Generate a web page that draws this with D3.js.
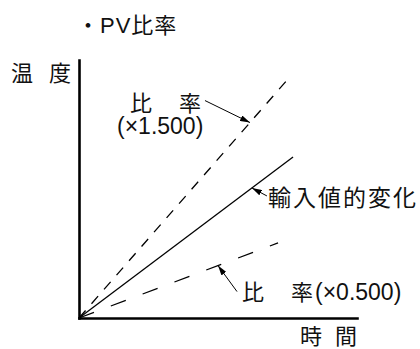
<!DOCTYPE html>
<html>
<head>
<meta charset="utf-8">
<script src="https://cdn.jsdelivr.net/npm/d3@7"></script>
<style>
  body { margin: 0; background: #fff; }
  text { font-family: "Liberation Sans", Arial, "Noto Sans CJK JP", sans-serif; fill: #111; }
</style>
</head>
<body>
<div id="root"></div>
<script>
const width = 420, height = 349;

// data, time and temperature in arbitrary units (axes have no ticks)
const timeDomain = [0, 10];
const tempDomain = [0, 10];
const seriesNames = ["x1.500", "input", "x0.500"];
const seriesEndTime = [7.55, 7.70, 7.16];
const seriesEndTemp = [9.30, 6.24, 2.91];
const seriesDash = ["10,9", null, "16,18"];

const svg = d3.select("#root").append("svg")
    .attr("width", width)
    .attr("height", height);

const x = d3.scaleLinear().domain(timeDomain).range([79, 357]);
const y = d3.scaleLinear().domain(tempDomain).range([318, 60]);

// axes, no ticks
svg.append("g")
    .attr("transform", "translate(0," + y(0) + ")")
    .call(d3.axisBottom(x).tickValues([]).tickSizeOuter(0));
svg.append("g")
    .attr("transform", "translate(" + x(0) + ",0)")
    .call(d3.axisLeft(y).tickValues([]).tickSizeOuter(0));
svg.selectAll(".domain")
    .attr("stroke", "#000")
    .attr("stroke-width", 2.6)
    .attr("stroke-linecap", "square");

// the three lines from origin
const line = d3.line().x(d => x(d[0])).y(d => y(d[1]));
svg.selectAll(".ratio")
  .data(seriesNames)
  .enter().append("path")
    .attr("class", "ratio")
    .attr("d", (d, i) => line([[0, 0], [seriesEndTime[i], seriesEndTemp[i]]]))
    .attr("fill", "none")
    .attr("stroke", "#000")
    .attr("stroke-width", 1.3)
    .attr("stroke-dasharray", (d, i) => seriesDash[i]);

// arrow marker
svg.append("defs").append("marker")
    .attr("id", "arrow")
    .attr("viewBox", "0 0 10 6")
    .attr("refX", 10)
    .attr("refY", 3)
    .attr("markerWidth", 10)
    .attr("markerHeight", 6)
    .attr("markerUnits", "userSpaceOnUse")
    .attr("orient", "auto")
  .append("path")
    .attr("d", "M0,0L10,3L0,6Z")
    .attr("fill", "#000");

// annotation arrows: which line, time of the tip, tail offset in px
const notes = [
  {s: 0, t: 6.15, dx: -45, dy: -22},
  {s: 1, t: 6.22, dx: 15, dy: 8},
  {s: 2, t: 5.00, dx: 19, dy: 26}
];
svg.selectAll(".note")
  .data(notes)
  .enter().append("line")
    .attr("class", "note")
    .attr("x1", d => x(d.t) + d.dx)
    .attr("y1", d => y(seriesEndTemp[d.s] * d.t / seriesEndTime[d.s]) + d.dy)
    .attr("x2", d => x(d.t))
    .attr("y2", d => y(seriesEndTemp[d.s] * d.t / seriesEndTime[d.s]))
    .attr("stroke", "#000")
    .attr("stroke-width", 1)
    .attr("marker-end", "url(#arrow)");

// texts
function label(txt, px, py, size, spacing) {
  svg.append("text")
    .attr("x", px)
    .attr("y", py)
    .attr("font-size", size)
    .attr("letter-spacing", spacing || 0)
    .text(txt);
}
label("・PV比率", 77, 33, 22, 1);
label("温", 11, 81, 22);
label("度", 49, 81, 22);
label("時", 300, 344, 22);
label("間", 335, 344, 22);
label("比", 130, 111, 22);
label("率", 179, 111, 22);
label("(×1.500)", 117, 134, 23);
label("輸入値的変化", 268, 206, 23, 2);
label("比", 242, 300, 22);
label("率", 291, 300, 22);
label("(×0.500)", 315, 300, 23);
</script>
</body>
</html>
